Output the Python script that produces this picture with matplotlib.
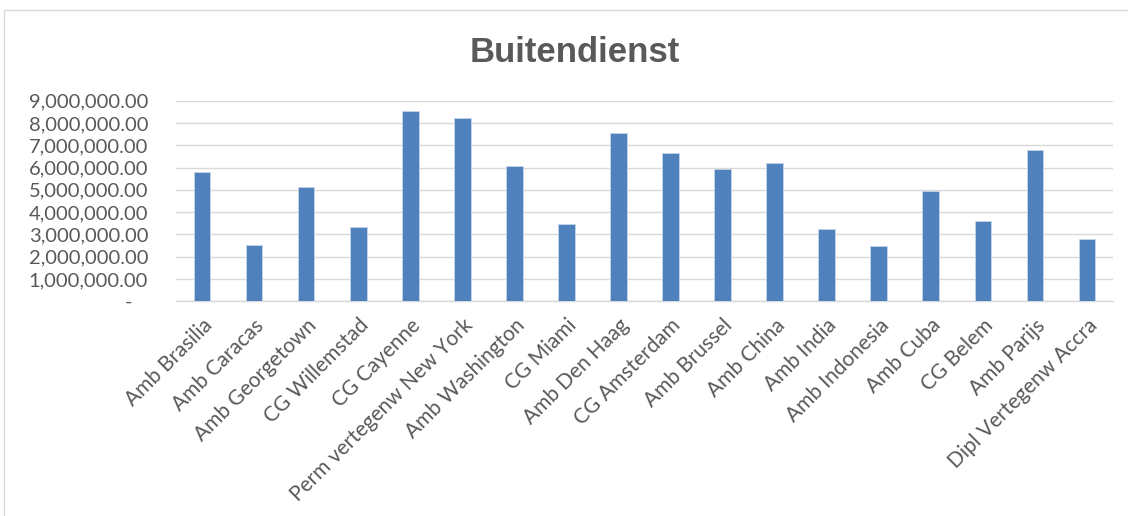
import matplotlib
matplotlib.use("Agg")
import matplotlib.pyplot as plt
from matplotlib.patches import Rectangle
from matplotlib.ticker import FuncFormatter

categories = ["Amb Brasilia", "Amb Caracas", "Amb Georgetown", "CG Willemstad", "CG Cayenne",
              "Perm vertegenw New York", "Amb Washington", "CG Miami", "Amb Den Haag",
              "CG Amsterdam", "Amb Brussel", "Amb China", "Amb India", "Amb Indonesia",
              "Amb Cuba", "CG Belem", "Amb Parijs", "Dipl Vertegenw Accra"]
values = [5785000, 2526000, 5127000, 3318000, 8550000, 8236000, 6069000, 3453000, 7534000,
          6637000, 5934000, 6203000, 3229000, 2481000, 4933000, 3602000, 6771000, 2780000]
yticks = [0, 1000000, 2000000, 3000000, 4000000, 5000000, 6000000, 7000000, 8000000, 9000000]

W, H = 1128, 516
fig = plt.figure(figsize=(W / 100, H / 100), dpi=100)
fig.patch.set_facecolor("white")

# chart frame (clipped on right/bottom)
fig.patches.append(Rectangle((4 / W, -0.2), 2.0, (H - 10) / H + 0.2, transform=fig.transFigure,
                             fill=False, edgecolor="#D9D9D9", linewidth=1.0))

ax = fig.add_axes([176 / W, (H - 301.3) / H, (1113 - 176) / W, (301.3 - 100.7) / H])
x = list(range(len(categories)))
ax.bar(x, values, width=0.32, color="#4F81BD", edgecolor="#C5D4EA", linewidth=0.6, zorder=3)
ax.set_xlim(-0.5, len(categories) - 0.5)
ax.set_ylim(0, 9000000)
ax.set_yticks(yticks)

def fmt(v, pos):
    if v == 0:
        return "-   "
    return "{:,.2f}".format(v)

ax.yaxis.set_major_formatter(FuncFormatter(fmt))
ax.grid(axis="y", color="#D9D9D9", linewidth=1.0, zorder=0)
for s in ["top", "right", "left"]:
    ax.spines[s].set_visible(False)
ax.spines["bottom"].set_color("#D9D9D9")
ax.spines["bottom"].set_linewidth(1.0)
ax.tick_params(axis="both", length=0, colors="#595959")
ax.tick_params(axis="y", pad=20, labelsize=14.5)
ax.set_xticks(x)
ax.set_xticklabels(categories, rotation=45, ha="right", va="top", rotation_mode="anchor",
                   fontsize=15)
ax.tick_params(axis="x", pad=10)
for lbl in ax.get_xticklabels() + ax.get_yticklabels():
    lbl.set_family(["Lato", "DejaVu Sans"])
    lbl.set_color("#595959")

fig.text(575 / W, 1 - 62 / H, "Buitendienst", ha="center", va="baseline",
         fontsize=25, fontweight="bold", color="#595959", family=["Liberation Sans", "DejaVu Sans"])

fig.savefig("out.png", dpi=100)
